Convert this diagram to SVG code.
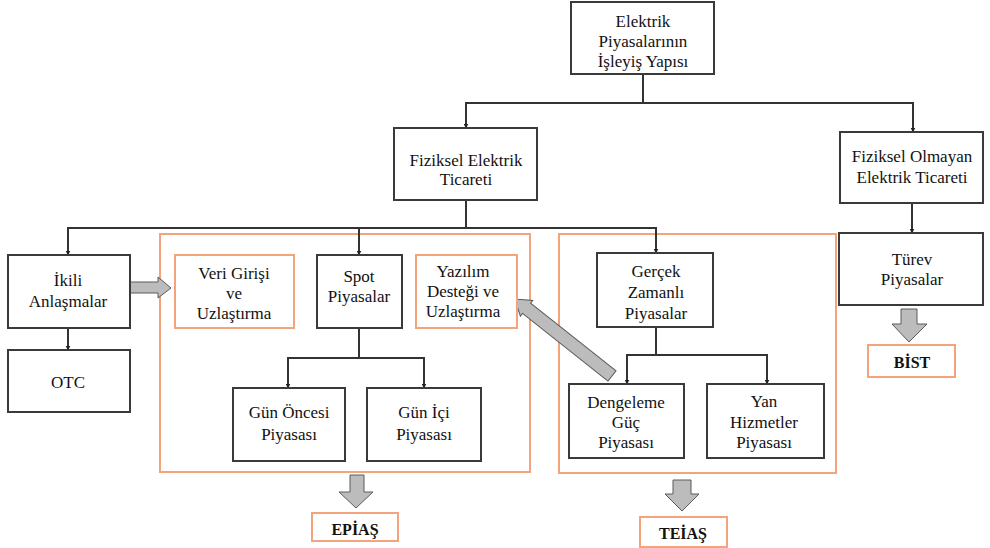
<svg xmlns="http://www.w3.org/2000/svg" width="990" height="548" viewBox="0 0 990 548" font-family="Liberation Serif, DejaVu Serif, Times New Roman, serif">
<defs>
<marker id="ah" viewBox="0 0 10 10" refX="9" refY="5" markerWidth="5" markerHeight="5" orient="auto" markerUnits="userSpaceOnUse">
<path d="M0,0 L10,5 L0,10 z" fill="#222"/>
</marker>
<style>
.b{fill:#fff;stroke:#3a3a3a;stroke-width:2}
.o{fill:none;stroke:#f4a47c;stroke-width:2}
.ob{fill:#fff;stroke:#f4a47c;stroke-width:2}
.c{fill:none;stroke:#333;stroke-width:2}
.ga{fill:#bcbcbc;stroke:#5a5a5a;stroke-width:1}
text{font-size:17px;fill:#111;text-anchor:middle}
.bd{font-weight:bold;font-size:16px}
</style>
</defs>
<rect width="990" height="548" fill="#fff"/>

<g id="containers">
<rect class="o" x="160" y="234" width="370" height="238"/>
<rect class="o" x="559" y="234" width="277" height="239"/>
</g>

<g id="connectors">
<path class="c" d="M643,74 V103 H913 V132" marker-end="url(#ah)"/>
<path class="c" d="M643,103 H466 V128" marker-end="url(#ah)"/>
<path class="c" d="M466,200 V228 H68 V255" marker-end="url(#ah)"/>
<path class="c" d="M466,228 H656 V253" marker-end="url(#ah)"/>
<path class="c" d="M359,228 V255" marker-end="url(#ah)"/>
<path class="c" d="M68,328 V350" marker-end="url(#ah)"/>
<path class="c" d="M359,328 V358 H288 V388" marker-end="url(#ah)"/>
<path class="c" d="M359,358 H424 V388" marker-end="url(#ah)"/>
<path class="c" d="M656,327 V355 H627 V384" marker-end="url(#ah)"/>
<path class="c" d="M656,355 H767 V384" marker-end="url(#ah)"/>
<path class="c" d="M912,203 V233" marker-end="url(#ah)"/>
<polygon class="ga" points="117,282 158,282 158,277 171,288 158,298 158,293 117,293"/>
<polygon class="ga" transform="translate(612,376) rotate(218.4)" points="0,-6.5 109,-6.5 109,-10 124,0 109,10 109,6.5 0,6.5"/>
<polygon class="ga" points="350,475 364,475 364,492 373,492 356,508 339,492 350,492"/>
<polygon class="ga" points="673,480 691,480 691,494 699,494 682,511 665,494 673,494"/>
<polygon class="ga" points="901,309 917,309 917,324 927,324 909,342 892,324 901,324"/>
</g>

<g id="n-root"><rect class="b" x="571" y="2" width="143" height="72"/>
<text x="643" y="27">Elektrik</text><text x="643" y="47">Piyasalarının</text><text x="643" y="67">İşleyiş Yapısı</text></g>

<g id="n-fiziksel"><rect class="b" x="394" y="128" width="143" height="72"/>
<text x="466" y="166">Fiziksel Elektrik</text><text x="466" y="185">Ticareti</text></g>

<g id="n-olmayan"><rect class="b" x="840" y="132" width="143" height="71"/>
<text x="912" y="162">Fiziksel Olmayan</text><text x="912" y="183">Elektrik Ticareti</text></g>

<g id="n-turev"><rect class="b" x="839" y="233" width="144" height="72"/>
<text x="912" y="265">Türev</text><text x="912" y="285">Piyasalar</text></g>

<g id="n-bist"><rect class="ob" x="868" y="345" width="87" height="32"/>
<text class="bd" x="912" y="368">BİST</text></g>

<g id="n-ikili"><rect class="b" x="8" y="255" width="122" height="73"/>
<text x="68" y="286">İkili</text><text x="68" y="307">Anlaşmalar</text></g>

<g id="n-otc"><rect class="b" x="8" y="350" width="122" height="62"/>
<text x="68" y="388">OTC</text></g>

<g id="n-veri"><rect class="ob" x="175" y="255" width="119" height="73"/>
<text x="234" y="279">Veri Girişi</text><text x="234" y="299">ve</text><text x="234" y="319">Uzlaştırma</text></g>

<g id="n-spot"><rect class="b" x="317" y="255" width="85" height="73"/>
<text x="359" y="282">Spot</text><text x="359" y="302">Piyasalar</text></g>

<g id="n-yazilim"><rect class="ob" x="416" y="255" width="101" height="73"/>
<text x="463" y="277">Yazılım</text><text x="463" y="297">Desteği ve</text><text x="463" y="317">Uzlaştırma</text></g>

<g id="n-gunoncesi"><rect class="b" x="233" y="388" width="112" height="73"/>
<text x="289" y="418">Gün Öncesi</text><text x="289" y="440">Piyasası</text></g>

<g id="n-gunici"><rect class="b" x="367" y="388" width="114" height="73"/>
<text x="424" y="418">Gün İçi</text><text x="424" y="440">Piyasası</text></g>

<g id="n-epias"><rect class="ob" x="312" y="513" width="86" height="28"/>
<text class="bd" x="355" y="535">EPİAŞ</text></g>

<g id="n-gercek"><rect class="b" x="597" y="253" width="116" height="74"/>
<text x="656" y="277">Gerçek</text><text x="656" y="298">Zamanlı</text><text x="656" y="319">Piyasalar</text></g>

<g id="n-dengeleme"><rect class="b" x="569" y="384" width="115" height="74"/>
<text x="626" y="408">Dengeleme</text><text x="626" y="428">Güç</text><text x="626" y="448">Piyasası</text></g>

<g id="n-yan"><rect class="b" x="707" y="384" width="117" height="74"/>
<text x="764" y="407">Yan</text><text x="764" y="428">Hizmetler</text><text x="764" y="448">Piyasası</text></g>

<g id="n-teias"><rect class="ob" x="640" y="517" width="87" height="30"/>
<text class="bd" x="683" y="539">TEİAŞ</text></g>
</svg>
